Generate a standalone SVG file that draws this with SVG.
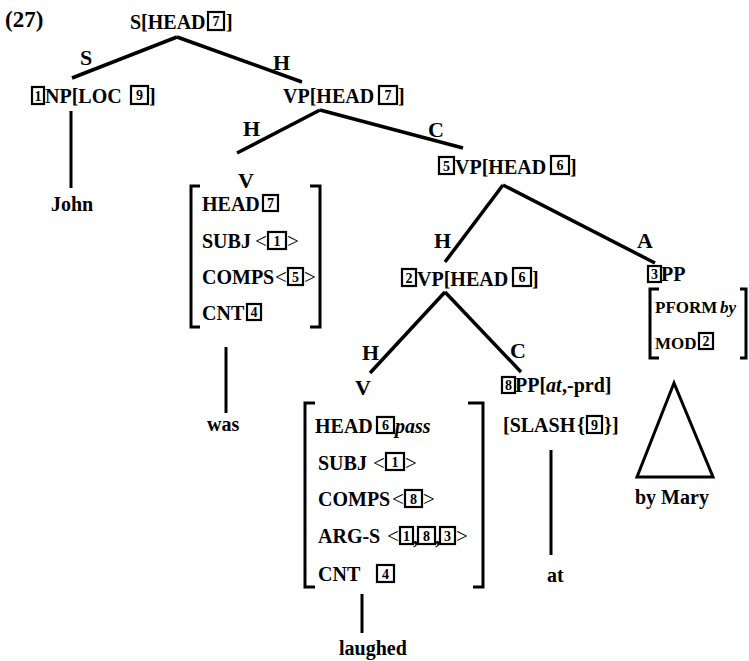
<svg xmlns="http://www.w3.org/2000/svg" width="749" height="661" viewBox="0 0 749 661">
<style>
text{font-family:"Liberation Serif","Times New Roman",serif;fill:#000}
.t{font-size:20px;font-weight:bold}
.s{font-size:17px;font-weight:bold}
.i{font-size:20px;font-style:italic;font-weight:bold}
.si{font-size:17px;font-style:italic;font-weight:bold}
.l{font-size:22px;font-weight:bold}
.d{font-size:14px;font-weight:bold;text-anchor:middle}
.a{font-size:21px}
.bx{fill:none;stroke:#000;stroke-width:2.2}
.e{stroke:#000;stroke-width:3.5;fill:none}
.v{stroke:#000;stroke-width:3;fill:none}
.br{stroke:#000;stroke-width:3;fill:none}
</style>
<rect width="749" height="661" fill="#fff"/>
<text x="5" y="27" style="font-size:23px;font-weight:bold">(27)</text>

<g id="connectors">
<path class="e" d="M177,37 L72,78"/>
<path class="e" d="M177,37 L302,82"/>
<path class="v" d="M71,111 V188"/>
<path class="e" d="M320,110 L237,153"/>
<path class="e" d="M320,110 L463,148"/>
<path class="v" d="M226,347 V413"/>
<path class="e" d="M503,185 L445,262"/>
<path class="e" d="M503,185 L655,263"/>
<path class="e" d="M445,292 L370,373"/>
<path class="e" d="M445,292 L521,372"/>
<path class="v" d="M362,594 V633"/>
<path class="v" d="M551,450 V555"/>
<text class="l" x="80" y="65">S</text>
<text class="l" x="273" y="70">H</text>
<text class="l" x="243" y="136">H</text>
<text class="l" x="428" y="137">C</text>
<text class="l" x="434" y="248">H</text>
<text class="l" x="637" y="248">A</text>
<text class="l" x="362" y="360">H</text>
<text class="l" x="510" y="358">C</text>
</g>

<g id="node-s">
<text class="t" x="130" y="29">S[HEAD</text>
<rect class="bx" x="208" y="12" width="16" height="18"/><text class="d" x="216" y="26">7</text>
<text class="t" x="226" y="29">]</text>
</g>

<g id="node-np">
<rect class="bx" x="32" y="87" width="12" height="17"/><text class="d" x="38" y="101">1</text>
<text class="t" x="45" y="103">NP[LOC</text>
<rect class="bx" x="131" y="86" width="17" height="18"/><text class="d" x="139.5" y="100">9</text>
<text class="t" x="149" y="103">]</text>
</g>

<g id="leaf-john">
<text class="t" x="51" y="211">John</text>
</g>

<g id="node-vp-top">
<text class="t" x="283" y="103">VP[HEAD</text>
<rect class="bx" x="379" y="86" width="18" height="18"/><text class="d" x="388" y="100">7</text>
<text class="t" x="398" y="103">]</text>
</g>

<g id="node-v-was">
<text class="l" x="238" y="188">V</text>
<path class="br" d="M200,186 H191 V327 H200"/>
<path class="br" d="M310,186 H320 V327 H310"/>
<text class="t" x="202" y="211">HEAD</text>
<rect class="bx" x="263" y="195" width="15" height="16"/><text class="d" x="270.5" y="208">7</text>
<text class="t" x="202" y="248">SUBJ</text>
<text class="a" x="255" y="248">&lt;</text>
<rect class="bx" x="268" y="232" width="18" height="17"/><text class="d" x="277" y="246">1</text>
<text class="a" x="287" y="248">&gt;</text>
<text class="t" x="202" y="284">COMPS</text>
<text class="a" x="275" y="284">&lt;</text>
<rect class="bx" x="288" y="268" width="15" height="17"/><text class="d" x="295.5" y="282">5</text>
<text class="a" x="304" y="284">&gt;</text>
<text class="t" x="202" y="320">CNT</text>
<rect class="bx" x="247" y="304" width="14" height="16"/><text class="d" x="254" y="317">4</text>
</g>

<g id="leaf-was">
<text class="t" x="207" y="431">was</text>
</g>

<g id="node-vp5">
<rect class="bx" x="439" y="157" width="15" height="17"/><text class="d" x="446.5" y="171">5</text>
<text class="t" x="455" y="174">VP[HEAD</text>
<rect class="bx" x="551" y="156" width="18" height="18"/><text class="d" x="560" y="170">6</text>
<text class="t" x="570" y="174">]</text>
</g>

<g id="node-vp2">
<rect class="bx" x="402" y="269" width="14" height="17"/><text class="d" x="409" y="283">2</text>
<text class="t" x="417" y="286">VP[HEAD</text>
<rect class="bx" x="513" y="268" width="18" height="18"/><text class="d" x="522" y="282">6</text>
<text class="t" x="532" y="286">]</text>
</g>

<g id="node-v-laughed">
<text class="l" x="355" y="395">V</text>
<path class="br" d="M315,403 H305 V587 H315"/>
<path class="br" d="M468,403 H483 V587 H473"/>
<text class="t" x="315" y="433">HEAD</text>
<rect class="bx" x="377" y="417" width="17" height="16"/><text class="d" x="385.5" y="430">6</text>
<text class="i" x="395" y="433">pass</text>
<text class="t" x="318" y="470">SUBJ</text>
<text class="a" x="373" y="470">&lt;</text>
<rect class="bx" x="386" y="453" width="18" height="17"/><text class="d" x="395" y="467">1</text>
<text class="a" x="405" y="470">&gt;</text>
<text class="t" x="318" y="506">COMPS</text>
<text class="a" x="392" y="506">&lt;</text>
<rect class="bx" x="405" y="490" width="17" height="17"/><text class="d" x="413.5" y="504">8</text>
<text class="a" x="423" y="506">&gt;</text>
<text class="t" x="318" y="543">ARG-S</text>
<text class="a" x="387" y="543">&lt;</text>
<rect class="bx" x="400" y="527" width="13" height="17"/><text class="d" x="406.5" y="541">1</text>
<text class="t" x="413" y="544">,</text>
<rect class="bx" x="418" y="527" width="17" height="17"/><text class="d" x="426.5" y="541">8</text>
<text class="t" x="435" y="544">,</text>
<rect class="bx" x="440" y="527" width="15" height="17"/><text class="d" x="447.5" y="541">3</text>
<text class="a" x="456" y="543">&gt;</text>
<text class="t" x="318" y="581">CNT</text>
<rect class="bx" x="377" y="565" width="17" height="17"/><text class="d" x="385.5" y="579">4</text>
</g>

<g id="leaf-laughed">
<text class="t" x="339" y="655">laughed</text>
</g>

<g id="node-pp8">
<rect class="bx" x="502" y="377" width="13" height="16"/><text class="d" x="508.5" y="390">8</text>
<text class="t" x="515" y="392">PP[</text>
<text class="i" x="546" y="392">at</text>
<text class="t" x="562" y="392">,-prd]</text>
<text class="t" x="503" y="432">[SLASH</text>
<text class="t" x="577" y="432">{</text>
<rect class="bx" x="587" y="416" width="15" height="17"/><text class="d" x="594.5" y="430">9</text>
<text class="t" x="604" y="432">}]</text>
</g>

<g id="leaf-at">
<text class="t" x="547" y="582">at</text>
</g>

<g id="node-pp3">
<rect class="bx" x="648" y="266" width="13" height="16"/><text class="d" x="654.5" y="279">3</text>
<text class="t" x="661" y="281">PP</text>
<path class="br" d="M659,289 H650 V358 H659"/>
<path class="br" d="M740,289 H746 V358 H740"/>
<text class="s" x="655" y="313">PFORM</text>
<text class="si" x="720" y="313">by</text>
<text class="s" x="655" y="349">MOD</text>
<rect class="bx" x="699" y="333" width="14" height="16"/><text class="d" x="706" y="346">2</text>
</g>

<g id="leaf-by-mary">
<path class="v" d="M674,383 L637,477 H713 Z" stroke-linejoin="miter"/>
<text class="t" x="635" y="504">by Mary</text>
</g>
</svg>
